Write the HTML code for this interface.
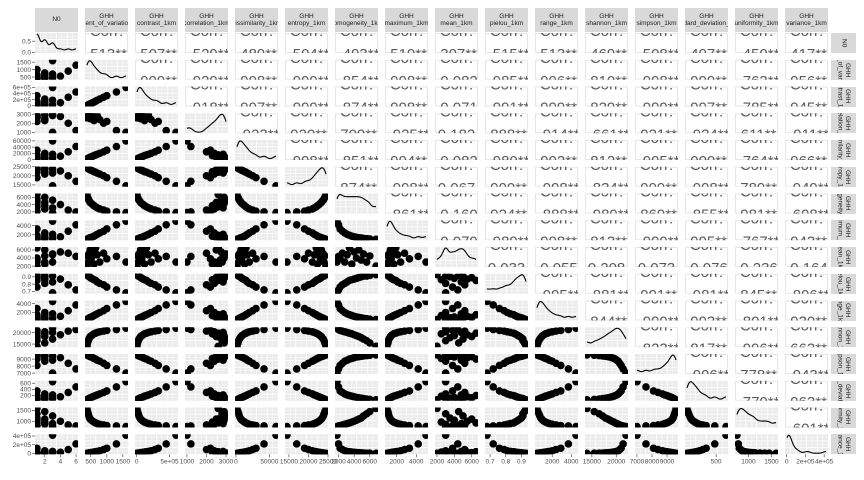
<!DOCTYPE html>
<html><head><meta charset="utf-8">
<style>
body{margin:0;background:#fff;width:864px;height:480px;overflow:hidden;font-family:"Liberation Sans",sans-serif}
#root{position:relative;width:864px;height:480px}
.strip{position:absolute;background:#d9d9d9;overflow:hidden;display:flex;justify-content:center;align-items:center;font-size:6.5px;color:#1a1a1a;text-align:center;line-height:7.5px;white-space:nowrap}
.rstrip{writing-mode:vertical-rl}
svg{position:absolute;left:0;top:0}
</style></head>
<body><div id="root">
<svg id="s" width="864" height="480"></svg>
</div>
<script>
const varNames=["N0","coefficient_of_variation_1km","contrast_1km","correlation_1km","dissimilarity_1km","entropy_1km","homogeneity_1km","maximum_1km","mean_1km","pielou_1km","range_1km","shannon_1km","simpson_1km","standard_deviation_1km","uniformity_1km","variance_1km"];
const vN0=[1,2,1,3,1,2,1,4,2,1,3,2,5,1,6,3];
const vCov=[380,400,420,440,460,480,520,560,600,650,700,780,900,1000,1300,1600];
const vContrast=[5000,15000,25000,35000,50000,60000,80000,100000,120000,150000,180000,220000,280000,330000,450000,600000];
const vCorrelation=[2600,2900,2800,3000,2700,2500,2900,2750,2300,2600,2850,2400,2000,2200,1200,1000];
const vDissim=[1500,3000,4000,5000,6500,7500,9000,11000,13000,15000,17000,20000,25000,30000,42000,60000];
const vEntropy=[24500,24200,24000,23800,23500,23300,23000,22700,22300,22000,21500,21000,20000,19000,17000,14500];
const vHomog=[6800,6000,5600,5200,4900,4600,4300,4000,3700,3400,3100,2800,2500,2200,2000,1800];
const vMax=[1000,1100,1150,1200,1300,1350,1450,1550,1700,1900,2100,2400,2800,3300,4200,5000];
const vMean=[2000,4500,3000,5000,3500,6000,4000,5500,2500,6500,4800,3000,5200,3800,4400,3000];
const vPielou=[0.93,0.92,0.91,0.91,0.9,0.89,0.88,0.87,0.86,0.85,0.83,0.81,0.79,0.76,0.72,0.68];
const vRange=[400,500,600,700,800,900,1000,1150,1300,1500,1700,2000,2400,2900,3700,4500];
const vShannon=[14000,15500,16500,17200,17800,18300,18700,19100,19500,19800,20100,20400,20700,21000,21400,22000];
const vSimpson=[9600,9550,9500,9450,9400,9350,9300,9200,9100,9000,8850,8700,8400,8100,7600,7000];
const vSd=[60,75,85,100,115,125,140,160,180,200,220,250,300,350,480,650];
const vUnif=[1600,1450,1350,1250,1150,1100,1050,1000,960,920,890,860,830,800,780,750];
const vVar=[3000,6000,8000,11000,14000,17000,21000,26000,32000,40000,48000,62000,90000,120000,220000,420000];
const data=[vN0,vCov,vContrast,vCorrelation,vDissim,vEntropy,vHomog,vMax,vMean,vPielou,vRange,vShannon,vSimpson,vSd,vUnif,vVar];

const NS="http://www.w3.org/2000/svg";
const svg=document.getElementById('s');
const root=document.getElementById('root');
const X0=35,PW=43,PX=50,Y0=33,PH=20,PY=26.75,N=16;
function el(t,a,p){const e=document.createElementNS(NS,t);for(const k in a)e.setAttribute(k,a[k]);(p||svg).appendChild(e);return e;}
function niceTicks(lo,hi,n){const span=hi-lo;let step=Math.pow(10,Math.floor(Math.log10(span/n)));const r=span/n/step;step*=r>5?10:r>2?5:r>1?2:1;const t=[];for(let v=Math.ceil(lo/step)*step;v<=hi+1e-9;v+=step)t.push(+v.toFixed(10));return t;}
function fmt(v){if(Math.abs(v)>=1e5){const e=Math.floor(Math.log10(Math.abs(v)||1));return v===0?"0e+00":(v/Math.pow(10,e)).toFixed(0)+"e+0"+e;}return String(+v.toFixed(3));}
function corr(a,b){const n=a.length;const ma=a.reduce((s,v)=>s+v,0)/n,mb=b.reduce((s,v)=>s+v,0)/n;let sab=0,sa=0,sb=0;for(let i=0;i<n;i++){sab+=(a[i]-ma)*(b[i]-mb);sa+=(a[i]-ma)**2;sb+=(b[i]-mb)**2;}return sab/Math.sqrt(sa*sb);}
function rng(v){const lo=Math.min(...v),hi=Math.max(...v),p=(hi-lo)*0.05||1;return [lo-p,hi+p];}
const ranges=data.map(rng);
const defs=el('defs',{});
for(let r=0;r<N;r++)for(let c=0;c<N;c++){
  const x=X0+c*PX,y=Y0+r*PY;
  const cp=el('clipPath',{id:'c'+r+'_'+c},defs);el('rect',{x:x,y:y,width:PW,height:PH},cp);
  const g=el('g',{'clip-path':'url(#c'+r+'_'+c+')'});
  
  
  const xs=v=>x+(v-ranges[c][0])/(ranges[c][1]-ranges[c][0])*PW;
  const ys=v=>y+PH-(v-ranges[r][0])/(ranges[r][1]-ranges[r][0])*PH;
  if(r<c){
    el('rect',{x:x+0.5,y:y+0.5,width:PW-1,height:PH-1,fill:'#fff',stroke:'#e6e6e6','stroke-width':1},g);
    const cv=corr(data[r],data[c]);let s=Math.abs(cv).toFixed(3);s=(cv<0?'-':'')+(Math.abs(cv)>0.3?s.slice(1)+'**':s);
    const t1=el('text',{x:x+PW/2,y:y+3,'text-anchor':'middle','font-size':15,fill:'#595959'},g);t1.textContent='Corr:';
    const t2=el('text',{x:x+PW/2,y:y+26,'text-anchor':'middle','font-size':15,fill:'#595959'},g);t2.textContent=s;
    continue;
  }
  el('rect',{x:x,y:y,width:PW,height:PH,fill:'#ebebeb'},g);
  for(let k=1;k<8;k++)el('line',{x1:x+k*PW/8,x2:x+k*PW/8,y1:y,y2:y+PH,stroke:'#fff','stroke-width':k%2?0.4:0.8},g);
  for(let k=1;k<6;k++)el('line',{x1:x,x2:x+PW,y1:y+k*PH/6,y2:y+k*PH/6,stroke:'#fff','stroke-width':k%2?0.4:0.8},g);
  if(r===c){
    const v=data[c],[lo,hi]=[Math.min(...v),Math.max(...v)],bw=(hi-lo)*0.07||0.3;const pts=[];let mx=0;
    for(let k=0;k<=50;k++){const xv=lo+(hi-lo)*k/50;let d=0;v.forEach(a=>d+=Math.exp(-0.5*((xv-a)/bw)**2));pts.push([xv,d]);mx=Math.max(mx,d);}
    const p=el('polyline',{points:pts.map(q=>xs(q[0])+','+(y+PH-1-q[1]/mx*(PH-2))).join(' '),fill:'none',stroke:'#000','stroke-width':1.1},g);
    
  }else{
    for(let i=0;i<data[c].length;i++){const d=el('circle',{cx:xs(data[c][i]),cy:ys(data[r][i]),r:3.8,fill:'#000'},g);
      }
  }
}
const ax=el('g',{fill:'#4d4d4d','font-size':6.5});

for(let r=0;r<N;r++){
  const y=Y0+r*PY;let lo=ranges[r][0],hi=ranges[r][1];if(r===0){lo=-0.02;hi=0.86;}
  niceTicks(lo,hi,4).forEach(t=>{const yy=y+PH-(t-lo)/(hi-lo)*PH;if(yy<y-1||yy>y+PH+1)return;
    el('line',{x1:X0-3,x2:X0,y1:yy,y2:yy,stroke:'#333','stroke-width':0.6},ax);
    const tx=el('text',{x:X0-4,y:yy+2.2,'text-anchor':'end'},ax);tx.textContent=r===0?t.toFixed(1):fmt(t);});
}
for(let c=0;c<N;c++){
  const x=X0+c*PX,lo=ranges[c][0],hi=ranges[c][1],yb=Y0+15*PY+PH;
  niceTicks(lo,hi,3).forEach(t=>{const xx=x+(t-lo)/(hi-lo)*PW;
    el('line',{x1:xx,x2:xx,y1:yb,y2:yb+3,stroke:'#333','stroke-width':0.6},ax);
    const tx=el('text',{x:xx,y:yb+9,'text-anchor':'middle'},ax);tx.textContent=fmt(t);});
}
for(let c=0;c<N;c++){
  const d=document.createElement('div');d.className='strip';
  
  d.style.cssText+=`left:${X0+c*PX}px;top:8px;width:${PW}px;height:24px`;
  d.innerHTML='<span>'+(c===0?'N0':'GHH<br>'+varNames[c])+'</span>';root.appendChild(d);
  const e=document.createElement('div');e.className='strip rstrip';
  
  e.style.cssText+=`left:831px;top:${Y0+c*PY}px;width:25px;height:${PH}px`;
  e.innerHTML='<span>'+(c===0?'N0':'GHH<br>'+varNames[c])+'</span>';root.appendChild(e);
}
</script></body></html>
